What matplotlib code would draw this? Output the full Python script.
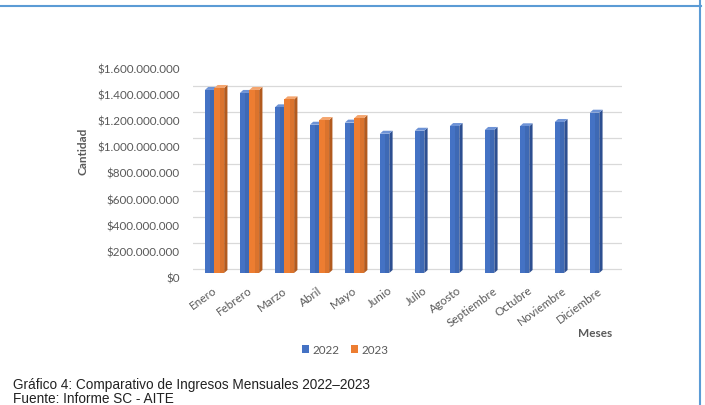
import matplotlib
matplotlib.use("Agg")
import matplotlib.pyplot as plt
from matplotlib.patches import Polygon, Patch
from matplotlib.lines import Line2D
from matplotlib.transforms import ScaledTranslation
import numpy as np

meses = ["Enero", "Febrero", "Marzo", "Abril", "Mayo", "Junio", "Julio",
         "Agosto", "Septiembre", "Octubre", "Noviembre", "Diciembre"]
ingresos_2022 = [1400e6, 1377e6, 1267e6, 1134e6, 1150e6, 1065e6, 1088e6,
                 1124e6, 1094e6, 1122e6, 1155e6, 1226e6]
ingresos_2023 = [1415e6, 1400e6, 1328e6, 1170e6, 1185e6]
y_ticks = [0, 200e6, 400e6, 600e6, 800e6, 1000e6, 1200e6, 1400e6, 1600e6]
series_names = ["2022", "2023"]

W, H = 705, 406
fig = plt.figure(figsize=(W / 100, H / 100), dpi=100)
fig.patch.set_facecolor("white")

ax_l, ax_r = 193, 622
ax_bot, ax_top = 274, 64.8
ax = fig.add_axes([ax_l / W, (H - ax_bot) / H, (ax_r - ax_l) / W, (ax_bot - ax_top) / H])
ax.set_xlim(-0.61, 11.65)
ax.set_ylim(0, 1600e6)
for s in ax.spines.values():
    s.set_visible(False)
ax.set_facecolor("none")

# pseudo-3D offsets (in data units)
px_x = (11.65 + 0.61) / (ax_r - ax_l)
px_y = 1600e6 / (ax_bot - ax_top)
dx, dy = 3.3 * px_x, 3.0 * px_y

# gridlines on the back wall (shifted up a few pixels)
grid_tr = ax.get_yaxis_transform() + ScaledTranslation(0, 4 / 100, fig.dpi_scale_trans)
for v in y_ticks:
    ax.plot([0, 1.01], [v, v], color="#D9D9D9", lw=0.9, transform=grid_tr, zorder=0)
# floor front line
ax.plot([0, 0.99], [0, 0], color="#E3E3E3", lw=0.9,
        transform=ax.get_yaxis_transform() + ScaledTranslation(0, -1 / 100, fig.dpi_scale_trans), zorder=0)

bw = 0.27
blue_front, blue_top, blue_side = "#4472C4", "#6E93D6", "#2D4F91"
orng_front, orng_top, orng_side = "#ED7D31", "#F4A56E", "#B25A1E"


def draw_bar(x0, x1, v, front, top, side, z):
    ax.add_patch(Polygon([(x1, 0), (x1 + dx, dy), (x1 + dx, v + dy), (x1, v)],
                         closed=True, facecolor=side, edgecolor="none", zorder=z))
    ax.add_patch(Polygon([(x0, v), (x1, v), (x1 + dx, v + dy), (x0 + dx, v + dy)],
                         closed=True, facecolor=top, edgecolor="none", zorder=z))
    ax.add_patch(Polygon([(x0, 0), (x1, 0), (x1, v), (x0, v)], closed=True,
                         facecolor=front, edgecolor="none", zorder=z + 0.1))
    # subtle shading on the front face
    ax.add_patch(Polygon([(x0 + (x1 - x0) * 0.55, 0), (x1, 0), (x1, v), (x0 + (x1 - x0) * 0.55, v)],
                         closed=True, facecolor="black", alpha=0.08, edgecolor="none", zorder=z + 0.2))


for i, v in enumerate(ingresos_2022):
    draw_bar(i - bw, i, v, blue_front, blue_top, blue_side, 2 + i)
for i, v in enumerate(ingresos_2023):
    draw_bar(i, i + bw + 0.01, v, orng_front, orng_top, orng_side, 2.5 + i)

# y ticks
ax.set_yticks(y_ticks)
ax.set_yticklabels(["$" + f"{int(v):,}".replace(",", ".") for v in y_ticks])
ax.tick_params(axis="y", length=0, pad=9.4, labelsize=8.4, labelcolor="#595959")
for lab in ax.get_yticklabels():
    lab.set_fontfamily("Lato")
    lab.set_transform(lab.get_transform() + ScaledTranslation(0, -4 / 100, fig.dpi_scale_trans))

# x ticks
ax.set_xticks(range(len(meses)))
ax.set_xticklabels(meses, rotation=36, ha="right", va="top", rotation_mode="anchor")
ax.tick_params(axis="x", length=0, pad=8, labelsize=8.4, labelcolor="#595959")
for lab in ax.get_xticklabels():
    lab.set_fontfamily("Lato")
    lab.set_transform(lab.get_transform() + ScaledTranslation(-2 / 100, 0, fig.dpi_scale_trans))

# axis titles
fig.text(83 / W, (H - 151) / H, "Cantidad", rotation=90, ha="center", va="center",
         fontsize=8.5, fontweight="bold", color="#595959", family="Lato")
fig.text(595 / W, (H - 334) / H, "Meses", ha="center", va="center",
         fontsize=8.5, fontweight="bold", color="#595959", family="Lato")

# legend
handles = [Patch(facecolor=blue_front, edgecolor="none"), Patch(facecolor=orng_front, edgecolor="none")]
fig.legend(handles, series_names, loc="center", bbox_to_anchor=(345 / W, (H - 350.5) / H),
           ncol=2, frameon=False, handlelength=0.6, handleheight=0.6, handletextpad=0.3,
           columnspacing=1.0, prop={"family": "Lato", "size": 8.4}, labelcolor="#595959")

# caption
fig.text(13 / W, (H - 389.5) / H, "Gráfico 4: Comparativo de Ingresos Mensuales 2022\u20132023",
         ha="left", va="baseline", fontsize=9.8, family="Liberation Sans", color="#222222")
fig.text(13 / W, (H - 403) / H, "Fuente: Informe SC - AITE",
         ha="left", va="baseline", fontsize=9.8, family="Liberation Sans", color="#222222")

# blue frame lines
fig.add_artist(Line2D([0, 701 / W], [(H - 7) / H, (H - 7) / H], color="#5B9BD5", lw=1.5,
                      transform=fig.transFigure))
fig.add_artist(Line2D([700 / W, 700 / W], [0, 1], color="#5B9BD5", lw=1.5,
                      transform=fig.transFigure))

fig.savefig("out.png", dpi=100)
